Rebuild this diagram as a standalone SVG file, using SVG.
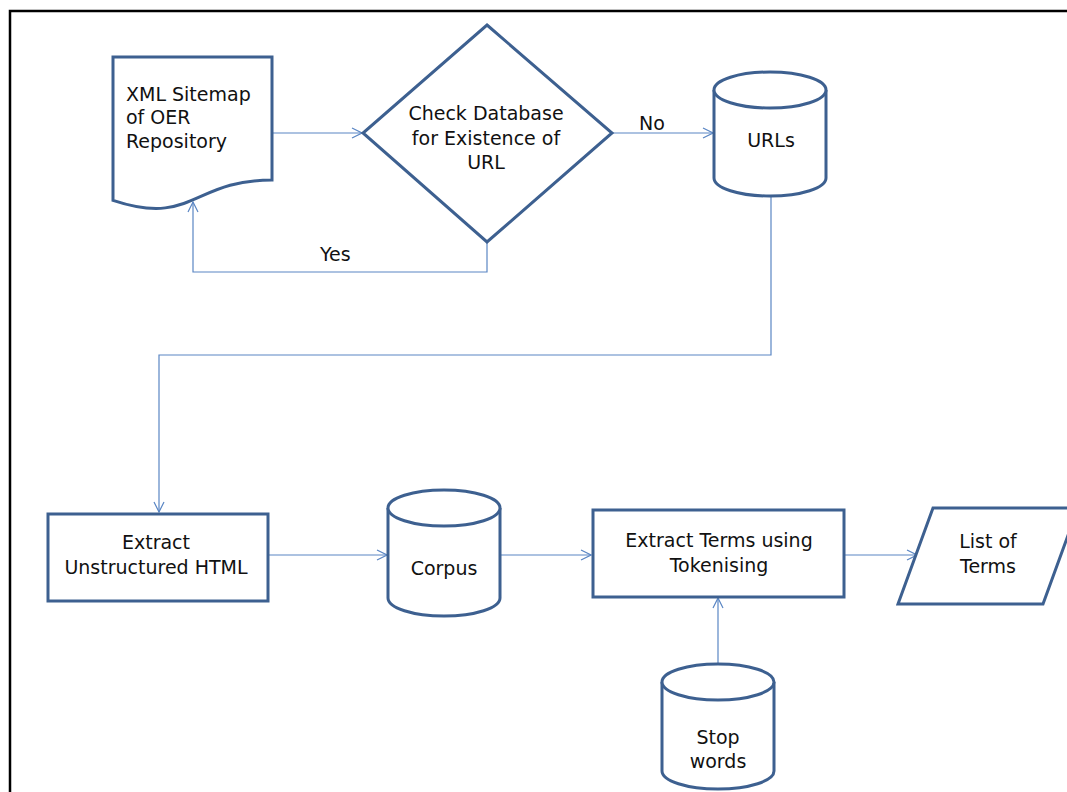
<svg xmlns="http://www.w3.org/2000/svg" width="1067" height="792" viewBox="0 0 1067 792">
<defs>
<style>
.shape{fill:#fff;stroke:#3d6090;stroke-width:3;stroke-linejoin:miter}
.conn{fill:none;stroke:#5a86c4;stroke-width:1.2}
text{font-family:"DejaVu Sans","Liberation Sans",sans-serif;font-size:19px;fill:#111}
.c{text-anchor:middle}
</style>
<marker id="arr" viewBox="0 0 12 12" refX="11" refY="6" markerWidth="12" markerHeight="12" markerUnits="userSpaceOnUse" orient="auto">
<path d="M1,1 L11,6 L1,11" fill="none" stroke="#5a86c4" stroke-width="1.2"/>
</marker>
</defs>
<rect x="0" y="0" width="1067" height="792" fill="#fff"/>
<rect x="10" y="11" width="1100" height="900" fill="none" stroke="#000" stroke-width="2.5"/>

<g id="connectors">
<path class="conn" d="M272,133 H362" marker-end="url(#arr)"/>
<path class="conn" d="M612,133 H713" marker-end="url(#arr)"/>
<path class="conn" d="M487,242 V272 H193 V202" marker-end="url(#arr)"/>
<path class="conn" d="M771,197 V355 H159 V512" marker-end="url(#arr)"/>
<path class="conn" d="M268,555 H387" marker-end="url(#arr)"/>
<path class="conn" d="M500,555 H591" marker-end="url(#arr)"/>
<path class="conn" d="M844,555 H917" marker-end="url(#arr)"/>
<path class="conn" d="M718,664 V598" marker-end="url(#arr)"/>
<text x="639" y="130">No</text>
<text x="320" y="261">Yes</text>
</g>

<g id="sitemap">
<path class="shape" d="M113,57 H272 V180 C192.5,180 192.5,226.8 113,200.3 Z"/>
<text x="126" y="101">XML Sitemap</text>
<text x="126" y="124">of OER</text>
<text x="126" y="148">Repository</text>
</g>

<g id="check">
<path class="shape" d="M487,25 L612,133 L487,242 L363,133 Z"/>
<text class="c" x="486" y="120">Check Database</text>
<text class="c" x="486" y="145">for Existence of</text>
<text class="c" x="486" y="169">URL</text>
</g>

<g id="urls">
<path class="shape" d="M714,90 A56,18 0 0 1 826,90 V178 A56,18 0 0 1 714,178 Z"/>
<path class="shape" fill="none" d="M714,90 A56,18 0 0 0 826,90"/>
<text class="c" x="771" y="147">URLs</text>
</g>

<g id="extract-html">
<rect class="shape" x="48" y="514" width="220" height="87"/>
<text class="c" x="156" y="549">Extract</text>
<text class="c" x="156" y="574">Unstructured HTML</text>
</g>

<g id="corpus">
<path class="shape" d="M388,508 A56,18 0 0 1 500,508 V598 A56,18 0 0 1 388,598 Z"/>
<path class="shape" fill="none" d="M388,508 A56,18 0 0 0 500,508"/>
<text class="c" x="444" y="575">Corpus</text>
</g>

<g id="extract-terms">
<rect class="shape" x="593" y="510" width="251" height="87"/>
<text class="c" x="719" y="547">Extract Terms using</text>
<text class="c" x="719" y="572">Tokenising</text>
</g>

<g id="list">
<path class="shape" d="M933,508 L1078,508 L1043,604 L898,604 Z"/>
<text class="c" x="988" y="548">List of</text>
<text class="c" x="988" y="573">Terms</text>
</g>

<g id="stopwords">
<path class="shape" d="M662,682 A56,18 0 0 1 774,682 V771 A56,18 0 0 1 662,771 Z"/>
<path class="shape" fill="none" d="M662,682 A56,18 0 0 0 774,682"/>
<text class="c" x="718" y="744">Stop</text>
<text class="c" x="718" y="768">words</text>
</g>
</svg>
